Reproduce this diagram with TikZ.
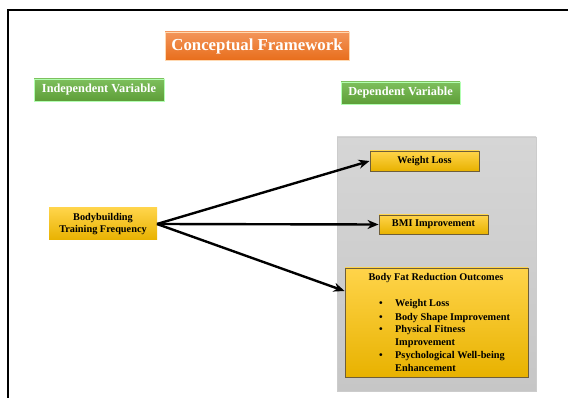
\documentclass[tikz,border=0pt]{standalone}
\usepackage{fontspec}
\setmainfont{Liberation Serif}
\usetikzlibrary{arrows.meta}
\begin{document}
\begin{tikzpicture}[x=1pt,y=-1pt,
  varbox/.style={draw=green!30!white,line width=0.4pt,top color=varTop,bottom color=varBot,text=white,font=\bfseries\fontsize{12.3}{14}\selectfont},
  yelbox/.style={draw=boxBorder,line width=0.9pt,top color=yelTop,bottom color=yelBot,font=\bfseries\fontsize{10.3}{12}\selectfont},
  arr/.style={-{Stealth[length=11pt,width=9pt]},line width=2.4pt,black},
  lst/.style={font=\bfseries\fontsize{10.3}{12}\selectfont,anchor=base west,inner sep=0pt}
]
\definecolor{varTop}{HTML}{7DBF5C}
\definecolor{varBot}{HTML}{5E9E38}
\definecolor{ttlTop}{HTML}{F3955A}
\definecolor{ttlBot}{HTML}{E86E1C}
\definecolor{yelTop}{HTML}{FFD44A}
\definecolor{yelBot}{HTML}{E8B200}
\definecolor{boxBorder}{HTML}{6E5E3A}
\definecolor{grayTop}{HTML}{D6D6D6}
\definecolor{grayBot}{HTML}{C6C6C6}
\useasboundingbox (0,0) rectangle (568,398);
% outer frame
\draw[line width=1.8pt] (8,400) -- (8,10) -- (570,10);
% title
\node[top color=ttlTop,bottom color=ttlBot,text=white,font=\bfseries\fontsize{16.8}{19}\selectfont,minimum width=184pt,minimum height=28pt,inner sep=0pt,draw=orange!30!white] (title) at (257,46) {Conceptual Framework};
\node[varbox,minimum width=130pt,minimum height=22pt,inner sep=0pt] (iv) at (99,90) {Independent Variable};
\node[varbox,minimum width=119pt,minimum height=22pt,inner sep=0pt] (dv) at (400.5,93) {Dependent Variable};
% gray panel
\node[draw=gray!40,top color=grayTop,bottom color=grayBot,minimum width=199pt,minimum height=254pt,inner sep=0pt] (panel) at (436.5,264) {};
% boxes
\node[yelbox,minimum width=109pt,minimum height=20pt,inner sep=0pt] (wl) at (424.5,161) {Weight Loss};
\node[yelbox,minimum width=109pt,minimum height=19pt,inner sep=0pt] (bmi) at (433.5,224.5) {BMI Improvement};
\node[yelbox,minimum width=183pt,minimum height=109pt,inner sep=0pt] (bf) at (436.5,322.5) {};
\node[yelbox,draw=none,minimum width=108pt,minimum height=32pt,inner sep=0pt,align=center] (bb) at (103,224) {Bodybuilding\\[0pt]Training Frequency};
% body fat text
\node[lst,anchor=base] (bfh) at (436,281) {Body Fat Reduction Outcomes};
\node[lst] (b1) at (379,307) {\textbullet};
\node[lst] (t1) at (395,307) {Weight Loss};
\node[lst] (b2) at (379,320) {\textbullet};
\node[lst] (t2) at (395,320) {Body Shape Improvement};
\node[lst] (b3) at (379,332.5) {\textbullet};
\node[lst] (t3) at (395,332.5) {Physical Fitness};
\node[lst] (t3b) at (395,345.5) {Improvement};
\node[lst] (b4) at (379,358) {\textbullet};
\node[lst] (t4) at (395,358) {Psychological Well-being};
\node[lst] (t4b) at (395,371) {Enhancement};
% arrows
\coordinate (src) at (157,224);
\draw[arr] (src) -- (wl.west);
\draw[arr] (src) -- (bmi.west);
\draw[arr] (src) -- (bf.west |- 0,291);
\end{tikzpicture}
\end{document}
